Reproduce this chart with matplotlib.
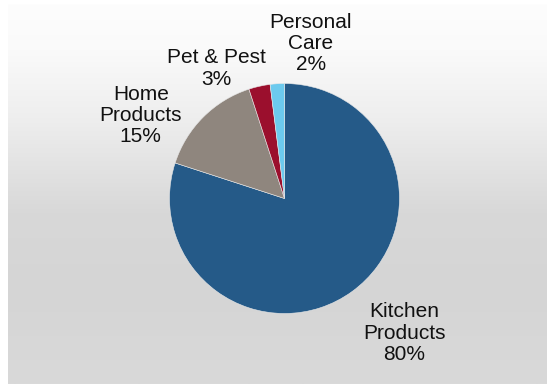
import numpy as np
import matplotlib

matplotlib.use("Agg")
import matplotlib.pyplot as plt
from matplotlib.colors import LinearSegmentedColormap

# Revenue share by product segment
segments = ["Kitchen\nProducts", "Home\nProducts", "Pet & Pest", "Personal\nCare"]
shares = [80, 15, 3, 2]
colors = ["#255a88", "#8f867e", "#9b0f2d", "#6ccaee"]

# where each label sits, in pie radius units from the centre
label_pos = [(1.04, -1.17), (-1.25, 0.72), (-0.59, 1.13), (0.23, 1.35)]

W, H, DPI = 547, 384, 100
fig = plt.figure(figsize=(W / DPI, H / DPI), dpi=DPI)
fig.patch.set_facecolor("white")

# grey panel with a white-to-grey vertical gradient
bg = fig.add_axes([8 / W, 0, 1 - 8 / W, 1 - 4 / H])
bg.set_axis_off()
cmap = LinearSegmentedColormap.from_list(
    "panel",
    [(0.0, "#fdfdfd"), (0.12, "#fafafa"), (0.30, "#eeeeee"),
     (0.55, "#d8d8d8"), (0.75, "#d5d5d5"), (1.0, "#d9d9d9")],
)
grad = np.linspace(0, 1, 256).reshape(-1, 1)
bg.imshow(grad, aspect="auto", cmap=cmap, extent=[0, 1, 0, 1], origin="upper")
bg.set_xlim(0, 1)
bg.set_ylim(0, 1)

# pie axes: centre (284.5, 198.5) px, radius 115 px
cx, cy, r = 284.5, 198.5, 115
ax = fig.add_axes([(cx - r) / W, (H - cy - r) / H, 2 * r / W, 2 * r / H])
ax.set_axis_off()
ax.pie(
    shares,
    colors=colors,
    startangle=90,
    counterclock=False,
    radius=1.0,
    wedgeprops=dict(edgecolor="#e8e8e8", linewidth=0.4),
)
ax.set_xlim(-1, 1)
ax.set_ylim(-1, 1)

for name, val, (x, y) in zip(segments, shares, label_pos):
    ax.text(x, y, f"{name}\n{val}%", ha="center", va="center",
            fontsize=15, family="Liberation Sans", color="#111111",
            linespacing=1.15, clip_on=False)

fig.savefig("out.png", dpi=DPI)
